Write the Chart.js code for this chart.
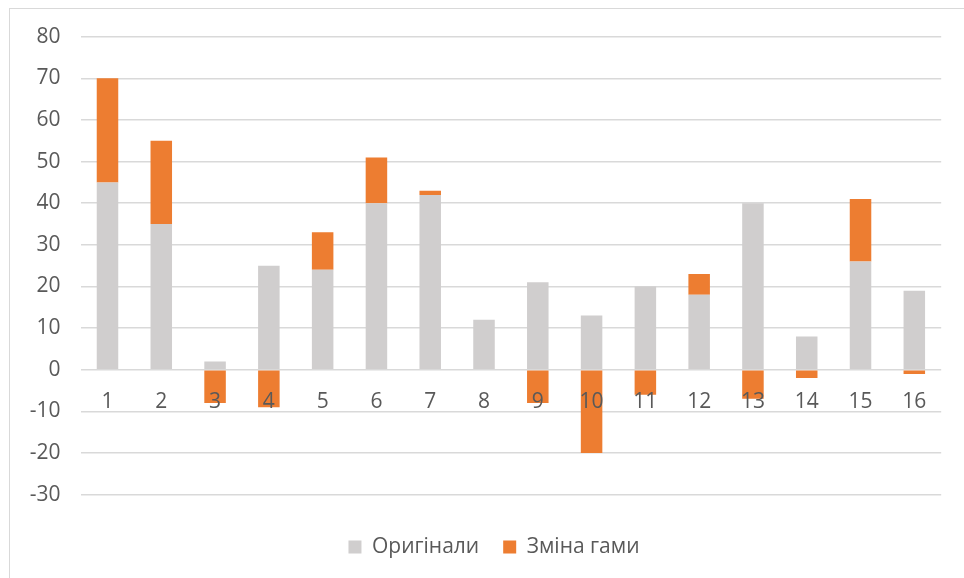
<!DOCTYPE html>
<html>
<head>
<meta charset="utf-8">
<script src="https://cdn.jsdelivr.net/npm/chart.js@4/dist/chart.umd.min.js"></script>
<style>
  html, body { margin: 0; padding: 0; background: #ffffff; }
  #wrap { position: relative; width: 964px; height: 578px; }
  #frame { position: absolute; left: 9px; top: 8px; width: 970px; height: 580px; border: 1px solid #d9d9d9; box-sizing: border-box; pointer-events: none; }
  canvas { position: absolute; left: 0; top: 0; }
</style>
</head>
<body>
<div id="wrap">
  <canvas id="c" width="964" height="578"></canvas>
  <div id="frame"></div>
</div>
<script>
const categories = ['1','2','3','4','5','6','7','8','9','10','11','12','13','14','15','16'];
const originals = [45, 35, 2, 25, 24, 40, 42, 12, 21, 13, 20, 18, 40, 8, 26, 19];
const gammaChange = [25, 20, -8, -9, 9, 11, 1, 0, -8, -20, -6, 5, -7, -2, 15, -1];
const seriesNames = ['Оригінали', 'Зміна гами'];
const yMin = -30, yMax = 80, yStep = 10;

const FONT = '"Open Sans", "Liberation Sans", sans-serif';
const TEXT = '#595959';

new Chart(document.getElementById('c'), {
  type: 'bar',
  data: {
    labels: categories,
    datasets: [
      { label: seriesNames[0], data: originals, backgroundColor: '#d0cece', borderWidth: 0, categoryPercentage: 1, barPercentage: 0.4 },
      { label: seriesNames[1], data: gammaChange, backgroundColor: '#ed7d31', borderWidth: 0, categoryPercentage: 1, barPercentage: 0.4 }
    ]
  },
  options: {
    responsive: false,
    animation: false,
    layout: { padding: { left: 24, right: 0, top: 36.7, bottom: 10.5 } },
    plugins: {
      tooltip: { enabled: false },
      legend: {
        position: 'bottom',
        title: { display: true, text: '', font: { size: 1, lineHeight: 1 }, padding: { top: 16.9, bottom: 0 } },
        labels: {
          font: { family: FONT, size: 21 },
          color: TEXT,
          boxWidth: 13,
          boxHeight: 13,
          padding: 24
        }
      }
    },
    scales: {
      x: {
        stacked: true,
        position: { y: 0 },
        grid: { display: false, drawTicks: false },
        border: { display: false },
        ticks: { z: 1, font: { family: FONT, size: 21 }, color: TEXT, padding: 20 }
      },
      y: {
        stacked: true,
        min: yMin, max: yMax,
        afterFit: (s) => { s.width = 56.6; },
        grid: { color: '#d9d9d9', lineWidth: 1.5, drawTicks: false },
        border: { display: false },
        ticks: { stepSize: yStep, font: { family: FONT, size: 21 }, color: TEXT, padding: 20 }
      },
      yRight: {
        position: 'right',
        display: true,
        grid: { display: false, drawTicks: false },
        border: { display: false },
        ticks: { display: false },
        afterFit: (s) => { s.width = 22.8; }
      }
    }
  }
});
</script>
</body>
</html>
